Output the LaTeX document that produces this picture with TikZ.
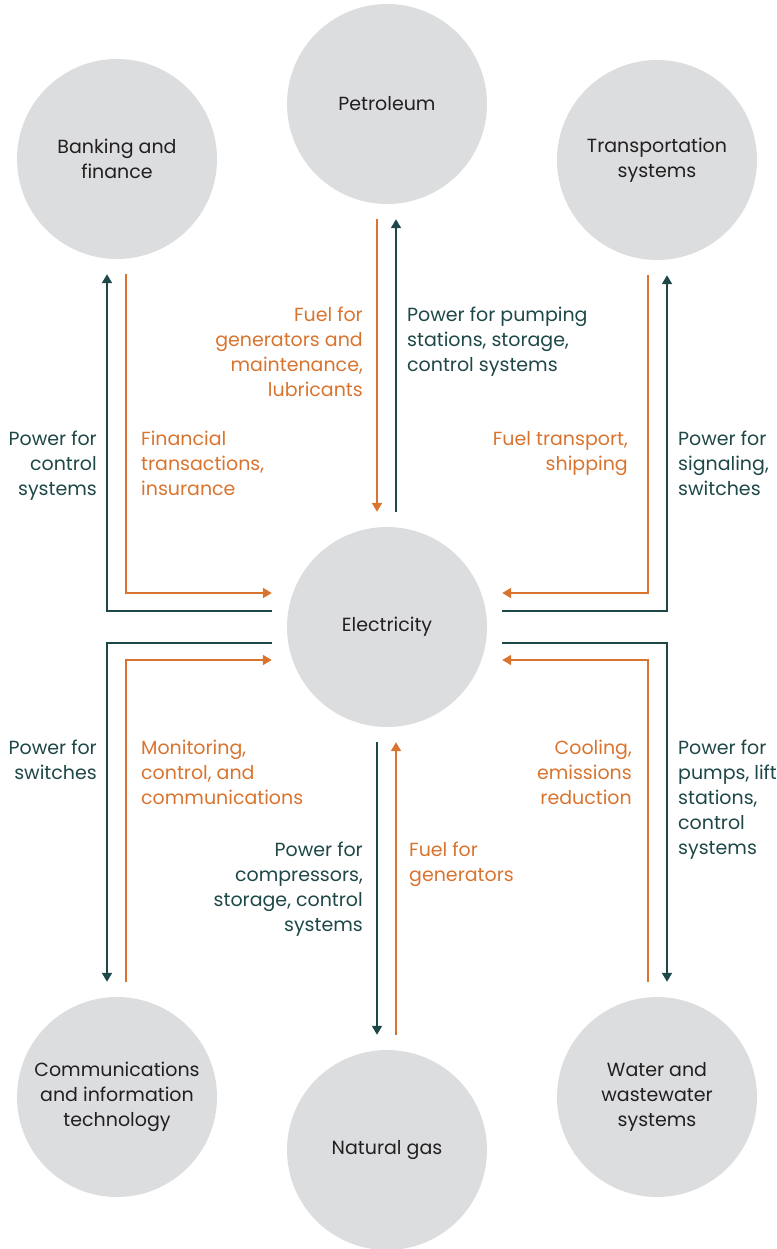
\documentclass[tikz,border=0pt]{standalone}
\usepackage{fontspec}
\setmainfont{Poppins}
\usetikzlibrary{arrows.meta}
\definecolor{pwrcol}{HTML}{1E4847}
\definecolor{fuelcol}{HTML}{D9742F}
\definecolor{hubfill}{HTML}{DCDDDF}
\definecolor{hubtext}{HTML}{231F20}
\tikzset{
  sector/.style={circle,fill=hubfill,minimum size=200pt,inner sep=0pt,align=center,
    text=hubtext,font=\fontsize{19}{25}\selectfont},
  flow/.style={line width=1.8pt,shorten <=15pt,shorten >=15pt,
    -{Triangle[width=10pt,length=9pt]}},
  pwr/.style={flow,draw=pwrcol},
  fuel/.style={flow,draw=fuelcol},
  note/.style={font=\fontsize{19}{25}\selectfont,inner sep=0pt},
  pwrnote/.style={note,text=pwrcol},
  fuelnote/.style={note,text=fuelcol},
}
\begin{document}
\begin{tikzpicture}[x=1pt,y=-1pt]
    \useasboundingbox (0,0) rectangle (776,1249);
    % sectors
    \node[sector] (bank) at (117,159) {Banking and\\finance};
    \node[sector] (petro) at (387,104) {Petroleum};
    \node[sector] (trans) at (657,160) {Transportation\\systems};
    \node[sector] (elec) at (387,627) {Electricity};
    \node[sector] (comm) at (117,1097) {Communications\\and information\\technology};
    \node[sector] (gas) at (387,1150) {Natural gas};
    \node[sector] (water) at (657,1097) {Water and\\wastewater\\systems};
    % upper left
    \draw[pwr] ([yshift=16pt]elec.west) -| ([xshift=-10pt]bank.south);
    \draw[fuel] ([xshift=9pt]bank.south) |- ([yshift=34pt]elec.west);
    % top
    \draw[fuel] ([xshift=-10pt]petro.south) -- ([xshift=-10pt]elec.north);
    \draw[pwr] ([xshift=9pt]elec.north) -- ([xshift=9pt]petro.south);
    % upper right
    \draw[fuel] ([xshift=-9pt]trans.south) |- ([yshift=34pt]elec.east);
    \draw[pwr] ([yshift=16pt]elec.east) -| ([xshift=10pt]trans.south);
    % lower left
    \draw[pwr] ([yshift=-16pt]elec.west) -| ([xshift=-10pt]comm.north);
    \draw[fuel] ([xshift=9pt]comm.north) |- ([yshift=-33pt]elec.west);
    % bottom
    \draw[pwr] ([xshift=-10pt]elec.south) -- ([xshift=-10pt]gas.north);
    \draw[fuel] ([xshift=9pt]gas.north) -- ([xshift=9pt]elec.south);
    % lower right
    \draw[pwr] ([yshift=-16pt]elec.east) -| ([xshift=10pt]water.north);
    \draw[fuel] ([xshift=-9pt]water.north) |- ([yshift=-33pt]elec.east);
    % labels (base = last line)
    \node[pwrnote,align=right,anchor=base east] (pwrbank) at (97,495) {Power for\\control\\systems};
    \node[fuelnote,align=left,anchor=base west] (fuelbank) at (141,495) {Financial\\transactions,\\insurance};
    \node[fuelnote,align=right,anchor=base east] (fuelpetro) at (363,396) {Fuel for\\generators and\\maintenance,\\lubricants};
    \node[pwrnote,align=left,anchor=base west] (pwrpetro) at (407,371) {Power for pumping\\stations, storage,\\control systems};
    \node[fuelnote,align=right,anchor=base east] (fueltrans) at (628,470) {Fuel transport,\\shipping};
    \node[pwrnote,align=left,anchor=base west] (pwrtrans) at (678,495) {Power for\\signaling,\\switches};
    \node[pwrnote,align=right,anchor=base east] (pwrcomm) at (97,779) {Power for\\switches};
    \node[fuelnote,align=left,anchor=base west] (fuelcomm) at (141,804) {Monitoring,\\control, and\\communications};
    \node[pwrnote,align=right,anchor=base east] (pwrgas) at (363,931) {Power for\\compressors,\\storage, control\\systems};
    \node[fuelnote,align=left,anchor=base west] (fuelgas) at (409,881) {Fuel for\\generators};
    \node[fuelnote,align=right,anchor=base east] (fuelwater) at (632,804) {Cooling,\\emissions\\reduction};
    \node[pwrnote,align=left,anchor=base west] (pwrwater) at (678,854) {Power for\\pumps, lift\\stations,\\control\\systems};
\end{tikzpicture}
\end{document}
